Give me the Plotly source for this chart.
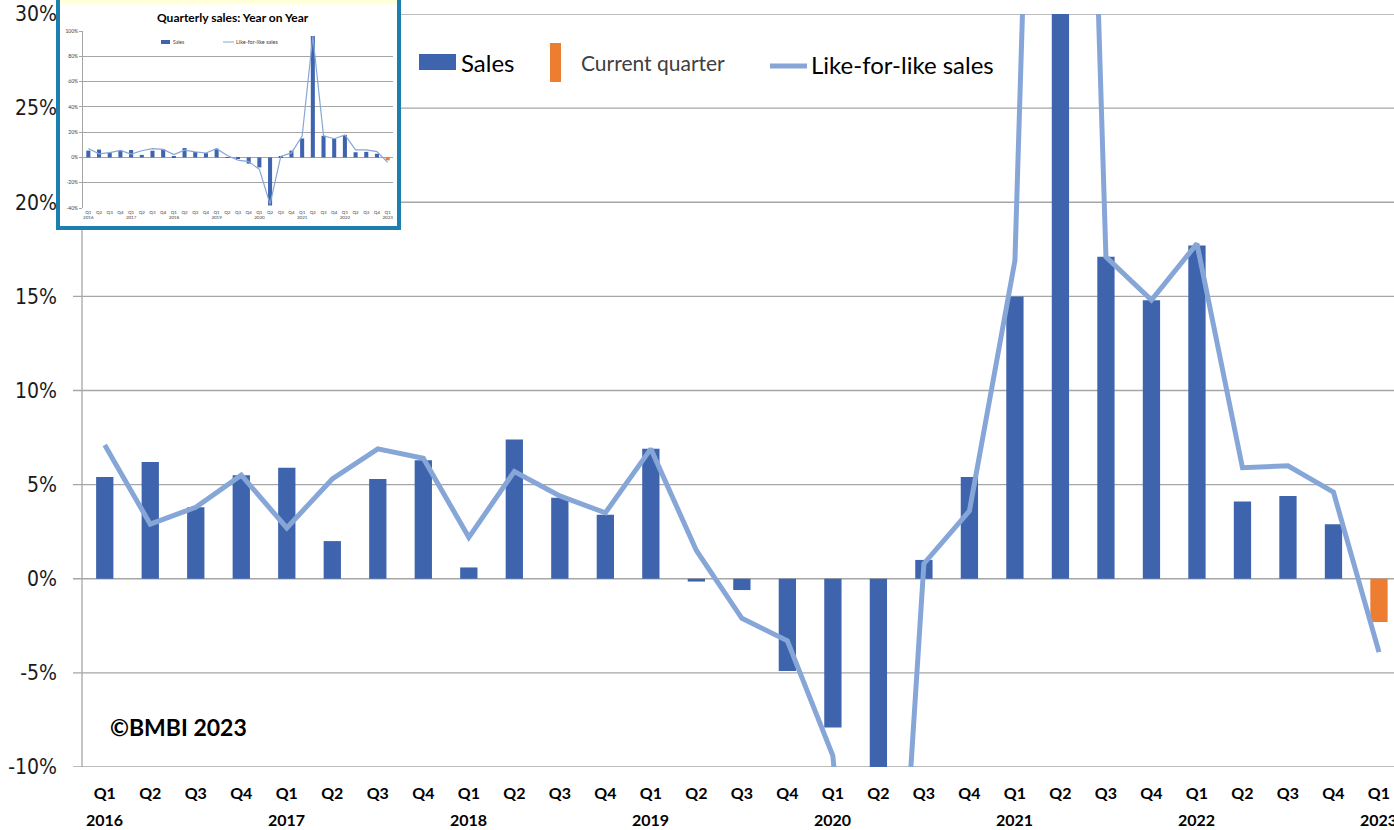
import plotly.graph_objects as go

# quarterly sales, year on year change in %
quarters = ["Q1", "Q2", "Q3", "Q4"] * 7 + ["Q1"]
years = ["2016", "2017", "2018", "2019", "2020", "2021", "2022", "2023"]
sales = [5.4, 6.2, 3.8, 5.5, 5.9, 2.0, 5.3, 6.3, 0.6, 7.4, 4.3, 3.4,
         6.9, -0.15, -0.6, -4.9, -7.9, -38.0, 1.0, 5.4, 15.0, 96.0,
         17.1, 14.8, 17.7, 4.1, 4.4, 2.9]
current_quarter = [-2.3]
lfl = [7.1, 2.9, 3.8, 5.5, 2.7, 5.3, 6.9, 6.4, 2.2, 5.7, 4.4, 3.5,
       6.9, 1.5, -2.1, -3.3, -9.4, -37.0, 0.8, 3.6, 16.9, 96.0,
       17.1, 14.8, 17.8, 5.9, 6.0, 4.6, -3.9]

BLUE = "#3E64AD"
LIGHT = "#86A6D8"
ORANGE = "#ED7D31"
GRID = "#A6A6A6"

W, H = 1394, 830
L, T, B = 82, 14, 63
PW, PH = W - L, H - T - B


def px(p):
    return (p - L) / PW


def py(p):
    return (H - B - p) / PH


idx = list(range(len(quarters)))
n_sales = len(sales)
ticktext_inset = [q + ("<br>" + years[i // 4] if q == "Q1" else "") for i, q in enumerate(quarters)]

fig = go.Figure()

# main chart
fig.add_trace(go.Bar(x=idx[:n_sales], y=sales, width=0.38, marker_color=BLUE,
                     marker_line_width=0, name="Sales", showlegend=False))
fig.add_trace(go.Bar(x=idx[n_sales:], y=current_quarter, width=0.38, marker_color=ORANGE,
                     marker_line_width=0, name="Current quarter", showlegend=False))
fig.add_trace(go.Scatter(x=idx, y=lfl, mode="lines", line=dict(color=LIGHT, width=5),
                         name="Like-for-like sales", showlegend=False))

# inset copy of the full-range chart
fig.add_trace(go.Bar(x=idx[:n_sales], y=sales, width=0.38, marker_color=BLUE,
                     marker_line_width=0, xaxis="x2", yaxis="y2", showlegend=False))
fig.add_trace(go.Bar(x=idx[n_sales:], y=current_quarter, width=0.38, marker_color=ORANGE,
                     marker_line_width=0, xaxis="x2", yaxis="y2", showlegend=False))
fig.add_trace(go.Scatter(x=idx, y=lfl, mode="lines", line=dict(color=LIGHT, width=1.2),
                         xaxis="x2", yaxis="y2", showlegend=False))

shapes = []
# main gridlines (with tick stubs on the left)
for v in range(-10, 31, 5):
    shapes.append(dict(type="line", xref="paper", yref="y", x0=px(73), x1=1, y0=v, y1=v,
                       line=dict(color=GRID, width=1.3), layer="below"))
shapes.append(dict(type="line", xref="paper", yref="paper", x0=0, x1=0, y0=0, y1=1,
                   line=dict(color=GRID, width=1.3), layer="below"))
# inset frame
shapes.append(dict(type="rect", xref="paper", yref="paper", x0=px(58), x1=px(399),
                   y0=py(228), y1=py(-3), fillcolor="white",
                   line=dict(color="#1B7FB0", width=4), layer="below"))
shapes.append(dict(type="rect", xref="paper", yref="paper", x0=px(60), x1=px(397),
                   y0=py(4.5), y1=py(-1), fillcolor="#FFFFD9", line=dict(width=0), layer="below"))
# legend swatches
shapes.append(dict(type="rect", xref="paper", yref="paper", x0=px(419), x1=px(456),
                   y0=py(70), y1=py(54), fillcolor=BLUE, line=dict(width=0)))
shapes.append(dict(type="rect", xref="paper", yref="paper", x0=px(550), x1=px(561),
                   y0=py(82), y1=py(43), fillcolor=ORANGE, line=dict(width=0)))
shapes.append(dict(type="line", xref="paper", yref="paper", x0=px(770), x1=px(807),
                   y0=py(66), y1=py(66), line=dict(color=LIGHT, width=5)))
# inset legend swatches
shapes.append(dict(type="rect", xref="paper", yref="paper", x0=px(161), x1=px(170),
                   y0=py(44), y1=py(40), fillcolor=BLUE, line=dict(width=0)))
shapes.append(dict(type="line", xref="paper", yref="paper", x0=px(223), x1=px(234),
                   y0=py(42), y1=py(42), line=dict(color=LIGHT, width=1)))

annotations = [
    dict(text="Sales", x=px(459), y=py(62), xref="paper", yref="paper", xanchor="left",
         yanchor="middle", showarrow=False, font=dict(family="Lato", size=24, color="black")),
    dict(text="Current quarter", x=px(579), y=py(62), xref="paper", yref="paper", xanchor="left",
         yanchor="middle", showarrow=False, font=dict(family="Lato", size=21, color="#404040")),
    dict(text="Like-for-like sales", x=px(809), y=py(64), xref="paper", yref="paper",
         xanchor="left", yanchor="middle", showarrow=False,
         font=dict(family="Lato", size=24, color="black")),
    dict(text="<b>©BMBI 2023</b>", x=px(108), y=py(727), xref="paper", yref="paper",
         xanchor="left", yanchor="middle", showarrow=False,
         font=dict(family="Lato", size=23, color="black")),
    dict(text="<b>Quarterly sales: Year on Year</b>", x=px(233), y=py(18), xref="paper",
         yref="paper", xanchor="center", yanchor="middle", showarrow=False,
         font=dict(family="Lato", size=12, color="black")),
    dict(text="Sales", x=px(170.5), y=py(42), xref="paper", yref="paper", xanchor="left",
         yanchor="middle", showarrow=False, font=dict(family="Lato", size=5, color="#404040")),
    dict(text="Like-for-like sales", x=px(233.5), y=py(42), xref="paper", yref="paper",
         xanchor="left", yanchor="middle", showarrow=False,
         font=dict(family="Lato", size=5.5, color="#404040")),
]
# year labels under each Q1
for i, q in enumerate(quarters):
    if q == "Q1":
        annotations.append(dict(text="<b>" + years[i // 4] + "</b>", x=i, xref="x", y=py(819),
                                yref="paper", xanchor="center", yanchor="middle",
                                showarrow=False, font=dict(family="Lato", size=16, color="black")))

fig.update_layout(
    width=W, height=H,
    margin=dict(l=L, r=0, t=T, b=B),
    paper_bgcolor="white", plot_bgcolor="rgba(0,0,0,0)",
    barmode="overlay",
    xaxis=dict(domain=[0, 1], range=[-0.5, 28.33], tickvals=idx,
               ticktext=["<b>" + q + "</b>" for q in quarters],
               tickfont=dict(family="Lato", size=16, color="black"),
               showgrid=False, zeroline=False, showline=False, ticks="", tickangle=0,
               ticklabelstandoff=15),
    yaxis=dict(domain=[0, 1], range=[-10, 30], tickvals=list(range(-10, 31, 5)),
               ticktext=[f"{v}%" for v in range(-10, 31, 5)],
               tickfont=dict(family="DejaVu Sans Condensed, DejaVu Sans", size=21, color="#1a1a1a"),
               showgrid=False, zeroline=False, showline=False, ticks="", ticklabelstandoff=24),
    xaxis3=dict(overlaying="x", anchor="free", position=0.25, side="bottom",
                range=[-0.5, 28.33], tickvals=[i + 0.5 for i in range(-1, 29)],
                ticks="outside", ticklen=6, tickcolor=GRID, tickwidth=1.3,
                showticklabels=False, showgrid=False, zeroline=False, showline=False),
    xaxis2=dict(domain=[px(83), px(393)], anchor="y2", range=[-0.5, 28.5], tickvals=idx,
                ticktext=ticktext_inset, tickfont=dict(family="Lato", size=4.5, color="#404040"),
                showgrid=False, zeroline=False, showline=False, ticks="", tickangle=0),
    yaxis2=dict(domain=[py(208), py(31)], anchor="x2", range=[-40, 100],
                tickvals=list(range(-40, 101, 20)),
                ticktext=[f"{v}%" for v in range(-40, 101, 20)],
                tickfont=dict(family="Lato", size=5, color="#404040"),
                showgrid=True, gridcolor=GRID, gridwidth=0.8, zeroline=False,
                showline=True, linecolor=GRID, linewidth=0.8, ticks="outside",
                ticklen=3, tickcolor=GRID),
    shapes=shapes,
    annotations=annotations,
)

# remove the default page margin so the figure sits at the window's corner
fig.write_html("out.html", config={"displayModeBar": False},
               post_script="document.body.style.margin='0';")
